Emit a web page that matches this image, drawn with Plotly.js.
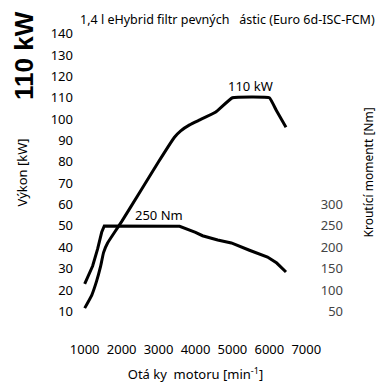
<!DOCTYPE html>
<html>
<head>
<meta charset="utf-8">
<script src="https://cdn.plot.ly/plotly-3.0.1.min.js"></script>
<style>html,body{margin:0;padding:0;background:#fff;}#chart{width:376px;height:383px;}</style>
</head>
<body>
<div id="chart"></div>
<script>
const rpmPower = [1000, 1190, 1320, 1430, 1510, 1620, 1800, 2000, 2500, 3000, 3430, 3600, 3840, 4100, 4550, 5000, 6000, 6190, 6450];
const powerKW  = [11.5, 17.5, 24, 31, 37.5, 42, 46.8, 52, 66, 80, 91.5, 94.5, 97.3, 99.5, 103.3, 110, 110, 104, 96.2];

const rpmTorque = [1000, 1110, 1215, 1350, 1460, 1530, 3500, 3570, 4000, 4190, 4600, 4970, 5460, 5950, 6200, 6450];
const torqueNm  = [114, 135, 156, 196, 235, 250, 250, 249, 235, 227, 217, 210, 193, 177, 163, 142];

const xTicks = [1000, 2000, 3000, 4000, 5000, 6000, 7000];
const powerTicks = [10, 20, 30, 40, 50, 60, 70, 80, 90, 100, 110, 120, 130, 140];
const torqueTicks = [50, 100, 150, 200, 250, 300];

const FONT = 'Noto Sans, sans-serif';

const traces = [
  {x: rpmPower, y: powerKW, type: 'scatter', mode: 'lines', line: {color: '#000', width: 3, shape: 'spline', smoothing: 0.3}, xaxis: 'x', yaxis: 'y', hoverinfo: 'skip'},
  {x: rpmTorque, y: torqueNm, type: 'scatter', mode: 'lines', line: {color: '#000', width: 3, shape: 'linear'}, xaxis: 'x', yaxis: 'y2', hoverinfo: 'skip'}
];

const layout = {
  width: 376, height: 383,
  margin: {l: 81, r: 30, t: 23, b: 61},
  paper_bgcolor: '#fff', plot_bgcolor: '#fff',
  showlegend: false,
  font: {family: FONT, size: 13, color: '#000'},
  title: {text: '1,4 l eHybrid filtr pevných&nbsp;&nbsp;&nbsp;ástic (Euro 6d-ISC-FCM)', x: 80/376, xanchor: 'left', y: 1 - 20/383, yanchor: 'middle', font: {family: FONT, size: 12.5, color: '#000'}},
  xaxis: {
    domain: [0, 229/265], range: [900, 7100], tickvals: xTicks, ticktext: xTicks.map(String),
    showgrid: false, zeroline: false, showline: false, ticks: '', ticklabelstandoff: 18,
    tickfont: {family: FONT, size: 13},
    title: {text: 'Otá ky&nbsp;&nbsp;motoru [min<sup>-1</sup>]', standoff: 15, font: {family: FONT, size: 13}}
  },
  yaxis: {
    range: [5, 145], tickvals: powerTicks, showgrid: false, zeroline: false, showline: false, ticks: '',
    ticklabelstandoff: 7, tickfont: {family: FONT, size: 13},
    title: {text: 'Výkon [kW]', standoff: 20, font: {family: FONT, size: 13}}
  },
  yaxis2: {
    overlaying: 'y', side: 'right', anchor: 'free', position: 1, range: [25, 725], tickvals: torqueTicks,
    showgrid: false, zeroline: false, showline: false, ticks: '', ticklabelposition: 'inside',
    tickfont: {family: FONT, size: 13}
  },
  annotations: [
    {text: '<b>110 kW</b>', xref: 'paper', yref: 'paper', x: (24 - 81)/265, y: 1 + (23 - 56)/299, xanchor: 'center', yanchor: 'middle', textangle: -90, showarrow: false, font: {family: 'Liberation Sans, Arial, sans-serif', size: 26, color: '#000'}},
    {text: 'Kroutící momentt [Nm]', xref: 'paper', yref: 'paper', x: (368 - 81)/265, y: 0.5, xanchor: 'center', yanchor: 'middle', textangle: -90, showarrow: false, font: {family: FONT, size: 12, color: '#000'}},
    {text: '110 kW', xref: 'x', yref: 'y', x: 5500, y: 110, xanchor: 'center', yanchor: 'bottom', yshift: 1, showarrow: false, font: {family: FONT, size: 13, color: '#000'}},
    {text: '250 Nm', xref: 'x', yref: 'y2', x: 3000, y: 250, xanchor: 'center', yanchor: 'bottom', yshift: 0, showarrow: false, font: {family: FONT, size: 13, color: '#000'}}
  ]
};

Plotly.newPlot('chart', traces, layout, {staticPlot: true, displayModeBar: false});
</script>
</body>
</html>
